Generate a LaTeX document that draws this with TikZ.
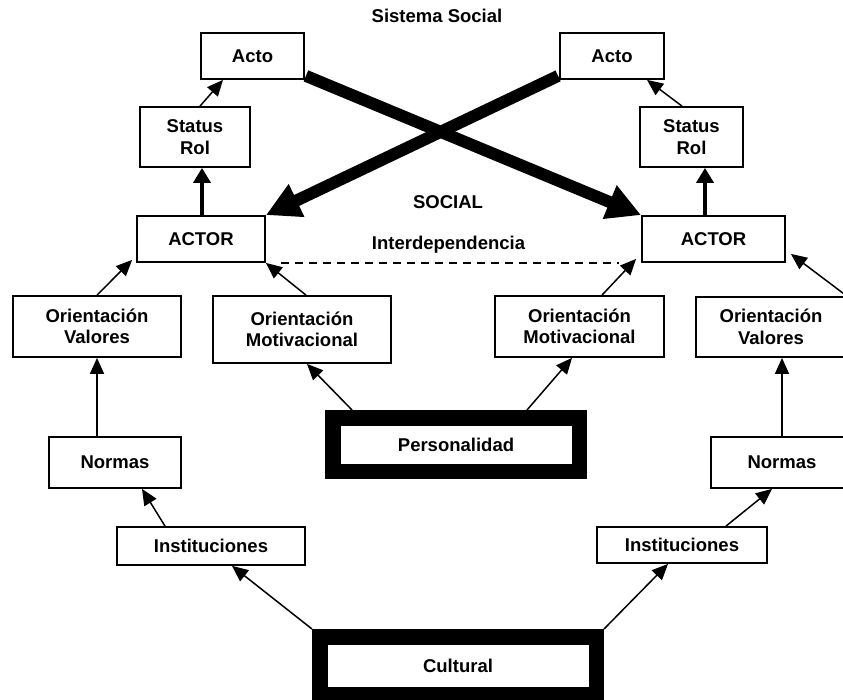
\documentclass[tikz,border=0pt]{standalone}
\usepackage{fontspec}
\setmainfont{Liberation Sans}
\usetikzlibrary{arrows.meta,calc}
\begin{document}
\begin{tikzpicture}[x=1pt,y=-1pt,
  font=\fontsize{18.5}{21.5}\selectfont\bfseries,
  box/.style={draw, line width=1.8pt, align=center, inner sep=0pt},
  heavybox/.style={draw, line width=15.5pt, align=center, inner sep=0pt},
  thinarrow/.style={line width=1.5pt, -{Triangle[length=16pt,width=14pt]}},
  medarrow/.style={line width=4pt, -{Triangle[length=15pt,width=17pt]}},
  bigarrow/.style={line width=12pt, -{Triangle[length=34pt,width=34pt]}},
  ]
\useasboundingbox (0,0) rectangle (843,700);
\clip (0,0) rectangle (843,700);
\fill[white] (0,0) rectangle (843,700);

\node[box, minimum width=103pt, minimum height=46pt] (actoL) at (252.5,56) {Acto};
\node[box, minimum width=104pt, minimum height=46pt] (actoR) at (612,56) {Acto};
\node[box, minimum width=110pt, minimum height=60pt] (statL) at (195,137) {Status\\Rol};
\node[box, minimum width=103pt, minimum height=60pt] (statR) at (691.5,137) {Status\\Rol};
\node[box, minimum width=128pt, minimum height=46pt] (actorL) at (201,239) {ACTOR};
\node[box, minimum width=143pt, minimum height=46pt] (actorR) at (713.5,239) {ACTOR};
\node[box, minimum width=168pt, minimum height=61pt] (ovL) at (97,326.5) {Orientación\\Valores};
\node[box, minimum width=178pt, minimum height=67pt] (omL) at (302,329.5) {Orientación\\Motivacional};
\node[box, minimum width=169pt, minimum height=61pt] (omR) at (579.5,326.5) {Orientación\\Motivacional};
\node[box, minimum width=150pt, minimum height=60pt] (ovR) at (771,327) {Orientación\\Valores};
\node[box, minimum width=132pt, minimum height=51pt] (normL) at (115,462.5) {Normas};
\node[box, minimum width=142pt, minimum height=51pt] (normR) at (782,462.5) {Normas};
\node[box, minimum width=188pt, minimum height=38pt] (instL) at (211,546) {Instituciones};
\node[box, minimum width=170pt, minimum height=36pt] (instR) at (682,545) {Instituciones};
\node[heavybox, minimum width=246.5pt, minimum height=53.5pt] (pers) at (456,444.5) {Personalidad};
\node[heavybox, minimum width=276.5pt, minimum height=57.5pt] (cult) at (458,665.5) {Cultural};

\node[anchor=base] (titulo) at (437,23) {Sistema Social};
\node[anchor=base] (social) at (448,209) {SOCIAL};
\node[anchor=base] (interdep) at (448.5,250) {Interdependencia};

\draw[bigarrow] ($(actoL.south east)+(1,-4)$) -- (actorR.north west);
\draw[bigarrow] ($(actoR.south west)+(-1,-4)$) -- (actorL.north east);

\draw[medarrow] ($(actorL.north)+(1,0)$) -- ($(statL.south)+(7,0)$);
\draw[medarrow] ($(actorR.north)+(-8.5,0)$) -- ($(statR.south)+(13.5,0)$);

\draw[thinarrow] ($(statL.north)+(5,0)$) -- ($(actoL.south)+(-29.5,0)$);
\draw[thinarrow] ($(statR.north)+(-9.5,0)$) -- ($(actoR.south)+(35,0)$);
\draw[thinarrow] (ovL.north) -- ($(actorL.south west)+(-4,-3)$);
\draw[thinarrow] ($(omL.north)+(4,0)$) -- (actorL.south east);
\draw[thinarrow] ($(omR.north)+(22.5,0)$) -- ($(actorR.south west)+(-5,-4)$);
\draw[thinarrow] (ovR.north east) -- ($(actorR.south east)+(5,-9)$);
\draw[thinarrow] ($(pers.north west)+(27,0)$) -- ($(omL.south)+(5,0)$);
\draw[thinarrow] ($(pers.north east)+(-60,0)$) -- ($(omR.south)+(-7.5,0)$);
\draw[thinarrow] (normL.north -| ovL.south) -- (ovL.south);
\draw[thinarrow] (normR.north) -- (normR.north |- ovR.south);
\draw[thinarrow] ($(instL.north)+(-46,0)$) -- ($(normL.south)+(27,0)$);
\draw[thinarrow] ($(instR.north)+(44,0)$) -- ($(normR.south)+(-10,0)$);
\draw[thinarrow] (cult.north west) -- ($(instL.south)+(21,0)$);
\draw[thinarrow] (cult.north east) -- ($(instR.south)+(-14,0)$);

\draw[line width=1.5pt, dash pattern=on 8pt off 6pt] ($(actorL.south east)+(15,0)$) -- ($(actorR.south west)+(-22,0)$);
\end{tikzpicture}
\end{document}
